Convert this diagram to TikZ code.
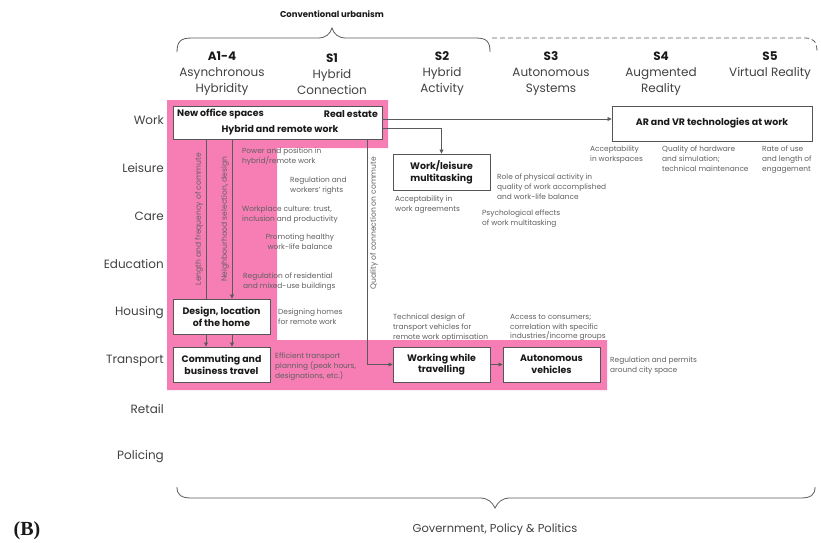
\documentclass[tikz,border=0pt]{standalone}
\usepackage{fontspec}
\setmainfont{Poppins}
\newfontfamily\serifB{Liberation Serif}
\usetikzlibrary{arrows.meta}
\definecolor{pinkfill}{RGB}{246,126,180}
\definecolor{boxline}{RGB}{85,85,85}
\definecolor{conn}{RGB}{90,90,90}
\definecolor{txt}{RGB}{65,65,65}
\definecolor{smalltxt}{RGB}{95,95,95}
\definecolor{dark}{RGB}{25,25,25}
\begin{document}
\begin{tikzpicture}[x=1pt,y=-1pt,
  hdr/.style={font=\fontsize{12}{16}\selectfont, text=txt, align=center, inner sep=0},
  rowlab/.style={font=\fontsize{12}{14}\selectfont, text=txt, anchor=east, inner sep=0},
  boxnode/.style={draw=boxline, line width=0.9pt, fill=white, inner sep=0},
  boxtxt/.style={font=\bfseries\fontsize{9.4}{11.8}\selectfont, text=dark, align=center, inner sep=0},
  note/.style={font=\fontsize{7.4}{9.8}\selectfont, text=smalltxt, align=left, anchor=north west, inner sep=0},
  vnote/.style={font=\fontsize{7.6}{9}\selectfont, text=smalltxt, rotate=90, inner sep=0},
  conline/.style={draw=conn, line width=0.7pt},
  arr/.style={conline, -{Triangle[length=4pt,width=4pt]}},
  bracel/.style={draw=conn, line width=0.8pt}
]
\useasboundingbox (0,0) rectangle (821,542);

% pink background region
\fill[pinkfill] (167,100) -- (388,100) -- (388,148) -- (277,148) -- (277,340)
  -- (607,340) -- (607,390) -- (167,390) -- cycle;

% top brace
\node[font=\bfseries\fontsize{8.5}{10}\selectfont, text=dark, inner sep=0] (conv) at (332,14) {Conventional urbanism};
\draw[bracel] (177,52) .. controls (177,41) and (181,38) .. (192,38) -- (318,38)
  .. controls (326,38) and (330,34) .. (332,28) .. controls (334,34) and (338,38) .. (346,38)
  -- (476,38) .. controls (487,38) and (490,42) .. (490,52);
\draw[bracel, dash pattern=on 5pt off 3pt] (492,38) -- (805,38) .. controls (814,38) and (817,42) .. (817,52);

% column headers
\node[hdr] (h1) at (222,74) {\textbf{\color{dark}A1-4}\\Asynchronous\\Hybridity};
\node[hdr] (h2) at (332,74) {\textbf{\color{dark}S1}\\Hybrid\\Connection};
\node[hdr] (h3) at (442,74) {\textbf{\color{dark}S2}\\Hybrid\\Activity};
\node[hdr] (h4) at (551,74) {\textbf{\color{dark}S3}\\Autonomous\\Systems};
\node[hdr] (h5) at (661,74) {\textbf{\color{dark}S4}\\Augmented\\Reality};
\node[hdr] (h6) at (770,66) {\textbf{\color{dark}S5}\\Virtual Reality};

% row labels
\node[rowlab] (r1) at (164,120) {Work};
\node[rowlab] (r2) at (164,168) {Leisure};
\node[rowlab] (r3) at (164,216) {Care};
\node[rowlab] (r4) at (164,264) {Education};
\node[rowlab] (r5) at (164,313) {Housing};
\node[rowlab] (r6) at (164,361) {Transport};
\node[rowlab] (r7) at (164,409) {Retail};
\node[rowlab] (r8) at (164,457) {Policing};

% boxes
\node[boxnode, minimum width=209pt, minimum height=33pt] (work) at (277.5,122.5) {};
\node[boxtxt, anchor=west] (work1) at (177,114) {New office spaces};
\node[boxtxt, anchor=east] (work2) at (378,114) {Real estate};
\node[boxtxt] (work3) at (280,130) {Hybrid and remote work};

\node[boxnode, minimum width=97pt, minimum height=36pt] (wl) at (441.5,172) {};
\node[boxtxt] (wlt) at (wl) {Work/leisure\\multitasking};

\node[boxnode, minimum width=200pt, minimum height=35pt] (ar) at (712,123.5) {};
\node[boxtxt] (art) at (ar) {AR and VR technologies at work};

\node[boxnode, minimum width=97pt, minimum height=35pt] (home) at (221.5,316.5) {};
\node[boxtxt] (homet) at (home) {Design, location\\of the home};

\node[boxnode, minimum width=97pt, minimum height=35pt] (comm) at (221.5,364.5) {};
\node[boxtxt] (commt) at (comm) {Commuting and\\business travel};

\node[boxnode, minimum width=97pt, minimum height=35pt] (wwt) at (441.5,364.5) {};
\node[boxtxt] (wwtt) at (wwt) {Working while\\travelling};

\node[boxnode, minimum width=97pt, minimum height=35pt] (av) at (551.5,364.5) {};
\node[boxtxt] (avt) at (av) {Autonomous\\vehicles};

% connectors
\coordinate (xa) at (206,0);
\coordinate (xb) at (232,0);
\coordinate (xq) at (367,0);
\draw[arr] ([yshift=3.5pt]work.east) -- ([yshift=3.5pt]work.east -| ar.west);
\draw[arr] ([yshift=-5.5pt]work.east) -| (wl.north);
\draw[conline] (work.south -| xa) -- (home.north -| xa);
\draw[arr] (work.south -| xb) -- (home.north -| xb);
\draw[arr] (home.south -| xa) -- (comm.north -| xa);
\draw[arr] (home.south -| xb) -- (comm.north -| xb);
\draw[arr] (work.south -| xq) |- (wwt.west);
\draw[arr] (wwt.east) -- (av.west);

% rotated labels
\node[vnote] (v1) at (199,219) {Length and frequency of commute};
\node[vnote] (v2) at (225,219) {Neighbourhood selection, design};
\node[vnote] (v3) at (374,223) {Quality of connection on commute};

% notes
\node[note] (n1) at (242,148) {Power and position in\\hybrid/remote work};
\node[note] (n2) at (290,177) {Regulation and\\workers' rights};
\node[note] (n3) at (242,206) {Workplace culture: trust,\\inclusion and productivity};
\node[note, align=center, anchor=north] (n4) at (300,234) {Promoting healthy\\work-life balance};
\node[note] (n5) at (243,273) {Regulation of residential\\and mixed-use buildings};
\node[note] (n6) at (278,309) {Designing homes\\for remote work};
\node[note] (n7) at (275,353) {Efficient transport\\planning (peak hours,\\designations, etc.)};
\node[note] (n8) at (395,196) {Acceptability in\\work agreements};
\node[note] (n9) at (497,174) {Role of physical activity in\\quality of work accomplished\\and work-life balance};
\node[note] (n10) at (482,210) {Psychological effects\\of work multitasking};
\node[note] (n11) at (590,146) {Acceptability\\in workspaces};
\node[note] (n12) at (662,146) {Quality of hardware\\and simulation;\\technical maintenance};
\node[note] (n13) at (762,146) {Rate of use\\and length of\\engagement};
\node[note] (n14) at (393,314) {Technical design of\\transport vehicles for\\remote work optimisation};
\node[note] (n15) at (510,314) {Access to consumers;\\correlation with specific\\industries/income groups};
\node[note] (n16) at (610,357) {Regulation and permits\\around city space};

% bottom brace
\draw[bracel] (177,487) .. controls (177,495) and (181,498) .. (192,498) -- (480,498)
  .. controls (488,498) and (492,502) .. (495,508) .. controls (498,502) and (502,498) .. (510,498)
  -- (800,498) .. controls (811,498) and (815,495) .. (815,487);
\node[font=\fontsize{11.5}{14}\selectfont, text=txt, inner sep=0] (gov) at (495,530) {Government, Policy \& Politics};

\node[font=\serifB\bfseries\fontsize{20}{22}\selectfont, text=dark, inner sep=0] (lblB) at (27,531) {(B)};
\end{tikzpicture}
\end{document}
